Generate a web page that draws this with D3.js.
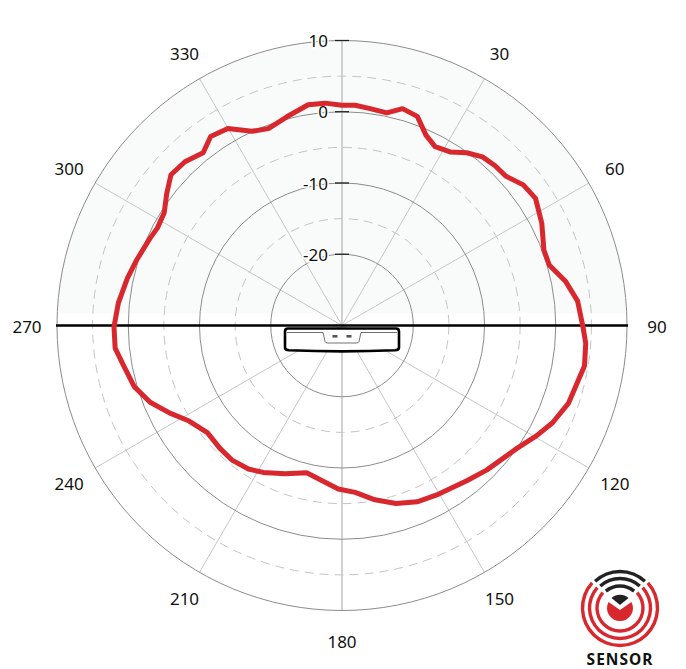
<!DOCTYPE html>
<html>
<head>
<meta charset="utf-8">
<script src="https://cdn.jsdelivr.net/npm/d3@7"></script>
<style>
    html, body { margin: 0; padding: 0; background: #fff; }
    svg { display: block; }
    text { font-family: "Noto Sans", "Open Sans", sans-serif; fill: #111; }
</style>
</head>
<body>
<svg id="chart" width="686" height="669"></svg>
<script>
// measured pattern, angle in degrees clockwise from 0, gain in dB
const angles = [0, 3.4, 7.4, 11.9, 15.6, 19.8, 23.8, 27.5, 31.9, 35.8, 39.8, 43.8, 47.6, 52.2, 56.7, 62.9, 69.5, 73.7, 78.9, 84.1,
    90.6, 94.2, 99.5, 109, 114.8, 119.5, 125.1, 135, 141.2, 150.8, 156.9, 163.1, 169.3, 175.5, 181.3, 193.5, 201, 208.2, 213.1, 219.4,
    224.8, 231.5, 238, 243, 248.2, 253.6, 259.8, 264.3, 269.7, 275.7, 282.4, 287.7, 294.4, 297.8, 302.4, 307, 311.4, 316.2, 321.2, 325.2,
    329.9, 335.1, 339.5, 345.2, 351.3, 355.6];
const gains = [0.9, 0.96, 0.7, 0.5, 1.6, 1.2, -0.8, -1.7, -1.3, -0.1, 0.8, 1.05, 1.1, 2.2, 2.5, 1.5, 0.25, 0.3, 2, 3.25,
    3.85, 4.3, 4.5, 3.6, 2.55, 1.4, 0, -1.3, -2.05, -2.75, -3.1, -3.9, -5.1, -6.5, -7.05, -8.75, -7.7, -6.6, -5.95, -5.6,
    -5.7, -5.85, -4.7, -2.9, -1, 0.4, 1.2, 2, 2, 1.55, 0.85, 0.25, -0.4, -0.7, -0.45, 0.8, 2, 1.85, 1.1, 2.3,
    1.95, 0.05, -0.5, 0.3, 1.35, 1.3];

const solidRings = [-20, -10, 0, 10];
const dashedRings = [-15, -5, 5];
const spokes = [0, 30, 60, 90, 120, 150, 180, 210, 240, 270, 300, 330];
const radialLabels = [10, 0, -10, -20];

const cx = 342;
const cy = 325.5;
const outer = 285;

const svg = d3.select('#chart');
const rScale = d3.scaleLinear().domain([-30, 10]).range([0, outer]);
const aScale = d3.scaleLinear().domain([0, 360]).range([0, 2 * Math.PI]);

const polar = (deg, r) => [
    r * Math.sin(aScale(deg)),
    -r * Math.cos(aScale(deg)),
];

const g = svg.append('g').attr('transform', `translate(${cx},${cy})`);

// pale band over the upper half
svg.append('clipPath').attr('id', 'band')
    .append('rect').attr('x', -outer).attr('y', -outer).attr('width', 2 * outer).attr('height', outer - 12);

g.append('circle')
    .attr('r', outer)
    .attr('fill', '#f9fbfa')
    .attr('clip-path', 'url(#band)');

// spokes
g.selectAll('.spoke')
    .data(spokes)
    .join('line')
    .attr('class', 'spoke')
    .attr('x2', d => polar(d, outer)[0])
    .attr('y2', d => polar(d, outer)[1])
    .attr('stroke', '#c6c6c6')
    .attr('stroke-width', d => (d % 180 === 0 ? 1.6 : 1));

// rings
g.selectAll('.dashed')
    .data(dashedRings)
    .join('circle')
    .attr('class', 'dashed')
    .attr('r', d => rScale(d))
    .attr('fill', 'none')
    .attr('stroke', '#c4c4c4')
    .attr('stroke-width', 1)
    .attr('stroke-dasharray', '9 6');

g.selectAll('.solid')
    .data(solidRings)
    .join('circle')
    .attr('class', 'solid')
    .attr('r', d => rScale(d))
    .attr('fill', 'none')
    .attr('stroke', '#8c8c8c')
    .attr('stroke-width', 1);

// radial ticks and their labels
g.selectAll('.rtick')
    .data(radialLabels)
    .join('line')
    .attr('class', 'rtick')
    .attr('x1', -7)
    .attr('x2', 7)
    .attr('y1', d => -rScale(d))
    .attr('y2', d => -rScale(d))
    .attr('stroke', '#222')
    .attr('stroke-width', 1.3);

g.selectAll('.rlabel')
    .data(radialLabels)
    .join('text')
    .attr('class', 'rlabel')
    .attr('x', -14)
    .attr('y', d => -rScale(d) + 6.5)
    .attr('text-anchor', 'end')
    .attr('font-size', 17)
    .attr('stroke', '#fff')
    .attr('stroke-width', 3)
    .attr('paint-order', 'stroke')
    .text(d => d);

// angle labels
g.selectAll('.alabel')
    .data(spokes.filter(d => d !== 0))
    .join('text')
    .attr('class', 'alabel')
    .attr('x', d => polar(d, outer + 30)[0])
    .attr('y', d => polar(d, outer + 30)[1] + 7)
    .attr('text-anchor', 'middle')
    .attr('font-size', 17)
    .text(d => d);

// sensor outline
const device = g.append('g');
device.append('path')
    .attr('d', 'M-57,6 Q-57,3 -54,3 L54,3 Q57,3 57,6 L57,22 Q57,24.5 53,24.8 Q0,27 -53,24.8 Q-57,24.5 -57,22 Z')
    .attr('fill', '#fff')
    .attr('stroke', '#000')
    .attr('stroke-width', 2.6)
    .attr('stroke-linejoin', 'round');
device.append('path')
    .attr('d', 'M-55,7 L-19,7 L-17,16 Q-16.5,17.5 -14,17.5 L14,17.5 Q16.5,17.5 17,16 L19,7 L55,7')
    .attr('fill', 'none')
    .attr('stroke', '#333')
    .attr('stroke-width', 0.7);
device.selectAll('.led')
    .data([-7, 7])
    .join('rect')
    .attr('class', 'led')
    .attr('x', d => d - 2.5)
    .attr('y', 9.5)
    .attr('width', 5)
    .attr('height', 2.6)
    .attr('fill', '#555');

// horizon
g.append('line')
    .attr('x1', -outer - 1)
    .attr('x2', outer + 1)
    .attr('stroke', '#000')
    .attr('stroke-width', 2.4);

// pattern
const line = d3.lineRadial()
    .angle((d, i) => aScale(angles[i]))
    .radius(d => rScale(d))
    .curve(d3.curveLinearClosed);

g.append('path')
    .attr('d', line(gains))
    .attr('fill', 'none')
    .attr('stroke', '#d9272e')
    .attr('stroke-width', 5)
    .attr('stroke-linejoin', 'round');

// logo
const logo = svg.append('g').attr('transform', 'translate(620,608)');
const arc = d3.arc();
const deg = Math.PI / 180;

[37.5, 30.5, 23].forEach(r => {
    logo.append('path')
        .attr('d', arc({ innerRadius: r - 1.7, outerRadius: r + 1.7, startAngle: 48 * deg, endAngle: 312 * deg }))
        .attr('fill', '#d9272e');
});
[[36.5, 43], [29.5, 42], [22, 40]].forEach(([r, a]) => {
    logo.append('path')
        .attr('d', arc({ innerRadius: r - 1.7, outerRadius: r + 1.7, startAngle: -a * deg, endAngle: a * deg }))
        .attr('fill', '#222');
});
logo.append('path')
    .attr('d', 'M-11.5,-6 A13,13 0 1 0 11.5,-6 L0,2 Z')
    .attr('fill', '#d9272e');
logo.append('path')
    .attr('d', 'M-8.5,-10 A13,13 0 0 1 8.5,-10 L0,-3 Z')
    .attr('fill', '#222');
logo.append('text')
    .attr('x', 0)
    .attr('y', 57)
    .attr('text-anchor', 'middle')
    .attr('font-family', 'Open Sans')
    .attr('font-size', 15.5)
    .attr('font-weight', 700)
    .attr('letter-spacing', 1)
    .text('SENSOR');
</script>
</body>
</html>
